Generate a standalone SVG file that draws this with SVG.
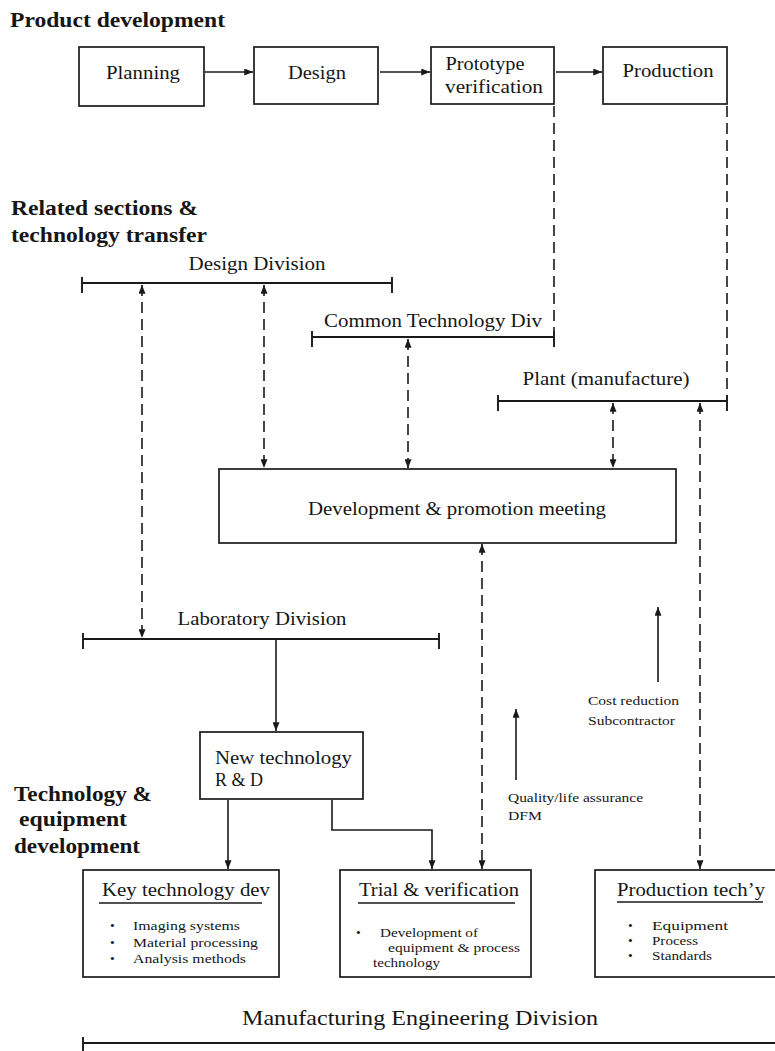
<svg xmlns="http://www.w3.org/2000/svg" width="775" height="1051" viewBox="0 0 775 1051" font-family="'Liberation Serif', 'DejaVu Serif', serif">
  <style>
    text { font-family: 'Liberation Serif', 'DejaVu Serif', serif; fill: #161616; }
    .h { font-size: 21px; font-weight: bold; }
    .lbl { font-size: 19px; }
    .div { font-size: 18px; }
    .ttl { font-size: 19px; }
    .c { text-anchor: middle; }
    .sm { font-size: 13.5px; }
    .xs { font-size: 13px; }
    .box { fill: #fff; stroke: #1a1a1a; stroke-width: 1.7; }
    .ln { fill: none; stroke: #1a1a1a; stroke-width: 1.6; }
    .dash { fill: none; stroke: #1a1a1a; stroke-width: 1.6; stroke-dasharray: 11 6; }
    .bar { fill: none; stroke: #1a1a1a; stroke-width: 1.9; }
  </style>
  <defs>
    <marker id="ah" viewBox="0 0 10 8" refX="10" refY="4" markerWidth="11" markerHeight="7" markerUnits="userSpaceOnUse" orient="auto-start-reverse">
      <path d="M0,0 L10,4 L0,8 Z" fill="#1a1a1a"/>
    </marker>
  </defs>

  <rect width="775" height="1051" fill="#fff"/>

  <!-- section headings -->
  <text class="h" x="10" y="27" textLength="215" lengthAdjust="spacingAndGlyphs">Product development</text>
  <text class="h" x="11" y="215" textLength="187" lengthAdjust="spacingAndGlyphs">Related sections &amp;</text>
  <text class="h" x="11" y="242" textLength="196" lengthAdjust="spacingAndGlyphs">technology transfer</text>
  <text class="h" x="14" y="801" textLength="138" lengthAdjust="spacingAndGlyphs">Technology &amp;</text>
  <text class="h" x="19" y="826" textLength="108" lengthAdjust="spacingAndGlyphs">equipment</text>
  <text class="h" x="14" y="853" textLength="126" lengthAdjust="spacingAndGlyphs">development</text>

  <!-- product flow boxes -->
  <g id="planning">
    <rect class="box" x="79" y="47" width="125" height="59"/>
    <text class="lbl c" x="143" y="79" textLength="74" lengthAdjust="spacingAndGlyphs">Planning</text>
  </g>
  <g id="design">
    <rect class="box" x="254" y="47" width="124" height="57"/>
    <text class="lbl c" x="317" y="79" textLength="58" lengthAdjust="spacingAndGlyphs">Design</text>
  </g>
  <g id="prototype">
    <rect class="box" x="431" y="47" width="123" height="57"/>
    <text class="lbl c" x="485" y="70" textLength="79" lengthAdjust="spacingAndGlyphs">Prototype</text>
    <text class="lbl c" x="494" y="93" textLength="98" lengthAdjust="spacingAndGlyphs">verification</text>
  </g>
  <g id="production">
    <rect class="box" x="603" y="47" width="124" height="57"/>
    <text class="lbl c" x="668" y="77" textLength="91" lengthAdjust="spacingAndGlyphs">Production</text>
  </g>

  <!-- division bars -->
  <g id="design-division">
    <text class="div c" x="257" y="270" textLength="137" lengthAdjust="spacingAndGlyphs">Design Division</text>
    <path class="bar" d="M82,283 H392 M82,277 V293 M392,277 V293"/>
  </g>
  <g id="common-technology-div">
    <text class="div c" x="433" y="327" textLength="218" lengthAdjust="spacingAndGlyphs">Common Technology Div</text>
    <path class="bar" d="M312,337 H554 M312,331 V347 M554,331 V347"/>
  </g>
  <g id="plant">
    <text class="div c" x="606" y="385" textLength="167" lengthAdjust="spacingAndGlyphs">Plant (manufacture)</text>
    <path class="bar" d="M498,401 H727 M498,395 V411 M727,395 V411"/>
  </g>

  <g id="promotion-meeting">
    <rect class="box" x="219" y="469" width="457" height="74"/>
    <text class="lbl c" x="457" y="515" textLength="298" lengthAdjust="spacingAndGlyphs">Development &amp; promotion meeting</text>
  </g>

  <g id="laboratory-division">
    <text class="div c" x="262" y="625" textLength="169" lengthAdjust="spacingAndGlyphs">Laboratory Division</text>
    <path class="bar" d="M83,639 H439 M83,633 V649 M439,633 V649"/>
  </g>

  <g id="new-technology">
    <rect class="box" x="200" y="732" width="163" height="67"/>
    <text class="lbl" x="215" y="764" textLength="137" lengthAdjust="spacingAndGlyphs">New technology</text>
    <text class="lbl" x="215" y="786" textLength="48" lengthAdjust="spacingAndGlyphs">R &amp; D</text>
  </g>

  <g id="key-technology">
    <rect class="box" x="83" y="870" width="196" height="107"/>
    <text class="ttl" x="102" y="896" textLength="168" lengthAdjust="spacingAndGlyphs">Key technology dev</text>
    <line class="ln" x1="99" y1="903" x2="262" y2="903"/>
    <text class="sm" x="110" y="930">•</text>
    <text class="sm" x="110" y="947">•</text>
    <text class="sm" x="110" y="963">•</text>
    <text class="sm" x="133" y="930" textLength="107" lengthAdjust="spacingAndGlyphs">Imaging systems</text>
    <text class="sm" x="133" y="947" textLength="125" lengthAdjust="spacingAndGlyphs">Material processing</text>
    <text class="sm" x="133" y="963" textLength="113" lengthAdjust="spacingAndGlyphs">Analysis methods</text>
  </g>

  <g id="trial-verification">
    <rect class="box" x="340" y="870" width="191" height="107"/>
    <text class="ttl" x="359" y="896" textLength="160" lengthAdjust="spacingAndGlyphs">Trial &amp; verification</text>
    <line class="ln" x1="358" y1="903" x2="515" y2="903"/>
    <text class="sm" x="356" y="937">•</text>
    <text class="sm" x="380" y="937" textLength="98" lengthAdjust="spacingAndGlyphs">Development of</text>
    <text class="sm" x="388" y="952" textLength="132" lengthAdjust="spacingAndGlyphs">equipment &amp; process</text>
    <text class="sm" x="373" y="967" textLength="67" lengthAdjust="spacingAndGlyphs">technology</text>
  </g>

  <g id="production-tech">
    <rect class="box" x="595" y="870" width="190" height="107"/>
    <text class="ttl" x="617" y="896" textLength="148" lengthAdjust="spacingAndGlyphs">Production tech’y</text>
    <line class="ln" x1="617" y1="902" x2="763" y2="902"/>
    <text class="sm" x="628" y="930">•</text>
    <text class="sm" x="628" y="945">•</text>
    <text class="sm" x="628" y="960">•</text>
    <text class="sm" x="652" y="930" textLength="76" lengthAdjust="spacingAndGlyphs">Equipment</text>
    <text class="sm" x="652" y="945" textLength="46" lengthAdjust="spacingAndGlyphs">Process</text>
    <text class="sm" x="652" y="960" textLength="60" lengthAdjust="spacingAndGlyphs">Standards</text>
  </g>

  <g id="manufacturing-engineering-division">
    <text class="c" x="420" y="1025" style="font-size:21px" textLength="356" lengthAdjust="spacingAndGlyphs">Manufacturing Engineering Division</text>
    <path class="bar" d="M83,1043 H775 M83,1037 V1051"/>
  </g>

  <!-- annotations on the upward flows -->
  <g id="quality-note">
    <text class="xs" x="508" y="802" textLength="135" lengthAdjust="spacingAndGlyphs">Quality/life assurance</text>
    <text class="xs" x="508" y="820" textLength="34" lengthAdjust="spacingAndGlyphs">DFM</text>
  </g>
  <g id="cost-note">
    <text class="xs" x="588" y="705" textLength="91" lengthAdjust="spacingAndGlyphs">Cost reduction</text>
    <text class="xs" x="588" y="725" textLength="87" lengthAdjust="spacingAndGlyphs">Subcontractor</text>
  </g>

  <!-- connectors -->
  <g id="connectors">
    <line class="ln" x1="205" y1="72" x2="253" y2="72" marker-end="url(#ah)"/>
    <line class="ln" x1="380" y1="72" x2="430" y2="72" marker-end="url(#ah)"/>
    <line class="ln" x1="556" y1="72" x2="602" y2="72" marker-end="url(#ah)"/>

    <line class="dash" x1="554" y1="106" x2="554" y2="331"/>
    <line class="dash" x1="727" y1="106" x2="727" y2="395"/>

    <line class="dash" x1="142" y1="285" x2="142" y2="638" marker-start="url(#ah)" marker-end="url(#ah)"/>
    <line class="dash" x1="264" y1="285" x2="264" y2="468" marker-start="url(#ah)" marker-end="url(#ah)"/>
    <line class="dash" x1="408" y1="339" x2="408" y2="468" marker-start="url(#ah)" marker-end="url(#ah)"/>
    <line class="dash" x1="613" y1="403" x2="613" y2="468" marker-start="url(#ah)" marker-end="url(#ah)"/>
    <line class="dash" x1="700" y1="403" x2="700" y2="869" marker-start="url(#ah)" marker-end="url(#ah)"/>
    <line class="dash" x1="482" y1="544" x2="482" y2="869" marker-start="url(#ah)" marker-end="url(#ah)"/>

    <line class="ln" x1="276" y1="640" x2="276" y2="731" marker-end="url(#ah)"/>
    <line class="ln" x1="228" y1="800" x2="228" y2="869" marker-end="url(#ah)"/>
    <path class="ln" d="M332,800 V830 H432 V869" marker-end="url(#ah)"/>

    <line class="ln" x1="516" y1="780" x2="516" y2="709" marker-end="url(#ah)"/>
    <line class="ln" x1="658" y1="682" x2="658" y2="607" marker-end="url(#ah)"/>
  </g>
</svg>
